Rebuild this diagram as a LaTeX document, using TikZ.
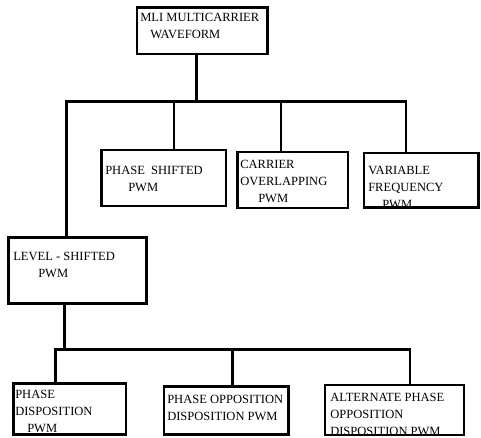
\documentclass[tikz,border=0pt]{standalone}
\usepackage{fontspec}
\setmainfont{Liberation Serif}
\begin{document}
\begin{tikzpicture}[x=0.75pt,y=0.75pt,yscale=-1,xscale=1,
  box/.style={draw, line width=2pt, inner sep=0pt},
  txt/.style={anchor=north west, inner sep=0pt, align=left, font=\fontsize{9.4}{12.6}\selectfont},
  wire/.style={line width=2pt}]
\useasboundingbox (0,0) rectangle (481,438);

%Shape: Rectangle
\node [box, minimum width=97.9pt, minimum height=34.9pt] (top) at (202.25,30.75) {};
%Shape: Rectangle
\node [box, minimum width=93.4pt, minimum height=42pt] (ps) at (163.75,178) {};
%Shape: Rectangle
\node [box, minimum width=82.9pt, minimum height=42pt] (co) at (292.75,180) {};
%Shape: Rectangle
\node [box, minimum width=85.9pt, minimum height=40.9pt] (vf) at (421.25,180.25) {};
%Shape: Rectangle
\node [box, minimum width=103.3pt, minimum height=49.3pt] (ls) at (77.65,270.35) {};
%Shape: Rectangle
\node [box, minimum width=84.4pt, minimum height=38.25pt] (pd) at (69.75,409.3) {};
%Shape: Rectangle
\node [box, minimum width=93.6pt, minimum height=36pt] (po) at (226.4,410.5) {};
%Shape: Rectangle
\node [box, minimum width=104.25pt, minimum height=37.5pt] (ap) at (394.5,410) {};

%Straight Lines
\coordinate (bus0) at (66.5,101.7);
\coordinate (busA) at (174,101.7);
\coordinate (busT) at (196.7,101.7);
\coordinate (busB) at (281,101.7);
\coordinate (busC) at (406,101.7);
\draw [wire] (bus0 |- ls.north) -- (bus0) -- (busC) -- (busC |- vf.north);
\draw [wire] (busT |- top.south) -- (busT);
\draw [wire] (busA) -- (busA |- ps.north);
\draw [wire] (busB) -- (busB |- co.north);

%Straight Lines
\coordinate (sub0) at (55.8,349.8);
\coordinate (subT) at (64.5,349.8);
\coordinate (subA) at (232.5,349.8);
\coordinate (subB) at (410,349.8);
\draw [wire] (sub0 |- pd.north) -- (sub0) -- (subB) -- (subB |- ap.north);
\draw [wire] (subT |- ls.south) -- (subT);
\draw [wire] (subA) -- (subA |- po.north);

% Text Node
\node [txt] (ttop) at (140,13.3) {MLI MULTICARRIER\\\hspace*{7.5pt}WAVEFORM};
% Text Node
\node [txt] (tps) at (105,166) {PHASE\ \ SHIFTED\\\hspace*{17.25pt}PWM};
% Text Node
\node [txt] (tco) at (240,160) {CARRIER\\OVERLAPPING\\\hspace*{13.5pt}PWM};
% Text Node
\node [txt] (tvf) at (368,166) {VARIABLE\\FREQUENCY\\\hspace*{10.5pt}PWM};
% Text Node
\node [txt] (tls) at (13,252) {LEVEL - SHIFTED\\\hspace*{18.75pt}PWM};
% Text Node
\node [txt] (tpd) at (15,390) {PHASE\\DISPOSITION\\\hspace*{9pt}PWM};
% Text Node
\node [txt] (tpo) at (167,395) {PHASE OPPOSITION\\DISPOSITION PWM};
% Text Node
\node [txt] (tap) at (330,393) {ALTERNATE PHASE\\OPPOSITION\\DISPOSITION PWM};

\end{tikzpicture}
\end{document}
